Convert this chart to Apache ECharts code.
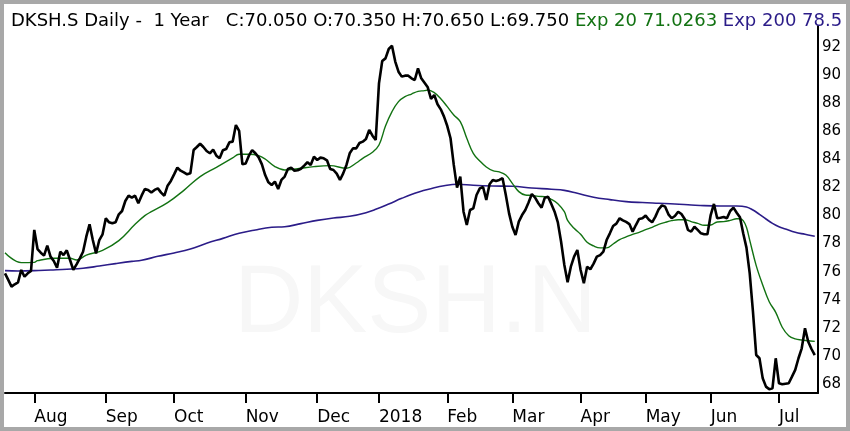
<!DOCTYPE html>
<html>
<head>
<meta charset="utf-8">
<script src="https://cdn.jsdelivr.net/npm/echarts@6/dist/echarts.min.js"></script>
<style>
  html, body { margin: 0; padding: 0; background: #fff; }
  #chart { width: 850px; height: 431px; }
</style>
</head>
<body>
<div id="chart"></div>
<script>
// trading-day index of the first session of each month
const monthStart = [9, 31, 52, 74, 96, 115, 136, 156, 177, 197, 217, 238];
const monthLabels = ['Aug', 'Sep', 'Oct', 'Nov', 'Dec', '2018', 'Feb', 'Mar', 'Apr', 'May', 'Jun', 'Jul'];
const priceTicks = [68, 70, 72, 74, 76, 78, 80, 82, 84, 86, 88, 90, 92];

// daily close, one value per trading day
const closes = [
  75.88, 75.41, 74.93, 75.10, 75.24, 76.12, 75.64, 75.88, 76.05, 78.97,
  77.61, 77.35, 77.14, 77.85, 77.07, 76.76, 76.28, 77.42, 77.18, 77.52,
  76.83, 76.12, 76.52, 76.95, 77.42, 78.49, 79.37, 78.25, 77.30, 78.25,
  78.66, 79.80, 79.51, 79.44, 79.51, 80.08, 80.32, 81.03, 81.41, 81.27,
  81.41, 80.87, 81.41, 81.89, 81.82, 81.63, 81.82, 81.93, 81.63, 81.41,
  82.12, 82.46, 82.93, 83.41, 83.19, 83.07, 82.93, 83.00, 84.66, 84.88,
  85.11, 84.88, 84.59, 84.43, 84.69, 84.26, 84.07, 84.64, 84.73, 85.21,
  85.26, 86.44, 86.02, 83.64, 83.71, 84.26, 84.66, 84.43, 84.14, 83.64,
  82.88, 82.36, 82.17, 82.41, 81.89, 82.53, 82.77, 83.31, 83.41, 83.19,
  83.22, 83.33, 83.55, 83.79, 83.60, 84.19, 83.95, 84.12, 84.07, 83.93,
  83.31, 83.24, 82.98, 82.53, 83.00, 83.60, 84.43, 84.78, 84.78, 85.16,
  85.26, 85.45, 86.09, 85.68, 85.38, 89.41, 91.00, 91.19, 91.86, 92.09,
  90.96, 90.24, 89.89, 89.96, 89.96, 89.77, 89.65, 90.48, 89.77, 89.45,
  89.13, 88.30, 88.58, 87.92, 87.56, 87.04, 86.37, 85.50, 83.60, 81.98,
  82.77, 80.27, 79.32, 80.39, 80.51, 81.46, 81.93, 82.03, 81.10, 82.22,
  82.53, 82.46, 82.53, 82.65, 81.46, 80.15, 79.20, 78.61, 79.56, 80.03,
  80.39, 80.93, 81.53, 81.27, 80.87, 80.56, 81.27, 81.34, 80.82, 80.27,
  79.51, 78.13, 76.47, 75.24, 76.35, 77.07, 77.54, 76.12, 75.17, 76.35,
  76.17, 76.57, 77.07, 77.18, 77.42, 78.25, 78.73, 79.25, 79.42, 79.80,
  79.65, 79.54, 79.39, 78.85, 79.32, 79.75, 79.80, 79.99, 79.70, 79.51,
  79.92, 80.44, 80.72, 80.63, 80.08, 79.80, 79.96, 80.27, 80.10, 79.75,
  78.97, 78.85, 79.20, 78.97, 78.73, 78.66, 78.66, 80.03, 80.82, 79.80,
  79.84, 79.89, 79.80, 80.32, 80.56, 80.20, 79.87, 78.73, 77.71, 75.88,
  73.15, 70.06, 69.83, 68.40, 67.81, 67.62, 67.69, 69.83, 68.05, 67.98,
  68.02, 68.05, 68.52, 69.00, 69.83, 70.54, 71.97, 71.01, 70.49, 70.05
];

// exponential averages: [day index, value]
const ema20 = [
  [0, 77.35], [5, 76.64], [9, 76.66], [10, 76.78], [15, 76.95], [20, 76.95], [22, 76.83],
  [25, 77.18], [30, 77.52], [35, 78.21], [40, 79.37], [43, 79.99], [45, 80.27], [50, 80.91],
  [55, 81.79], [60, 82.77], [65, 83.43], [70, 84.10], [72, 84.36], [75, 84.36], [78, 84.26],
  [80, 84.02], [83, 83.48], [86, 83.24], [90, 83.33], [95, 83.48], [100, 83.55], [105, 83.36],
  [108, 83.74], [110, 84.07], [113, 84.50], [115, 85.02], [117, 86.37], [119, 87.40],
  [121, 88.11], [123, 88.46], [125, 88.65], [127, 88.84], [129, 88.89], [130, 88.94],
  [132, 88.75], [134, 88.32], [136, 87.75], [138, 87.16], [140, 86.68], [142, 85.50],
  [144, 84.43], [146, 83.88], [148, 83.45], [150, 83.19], [152, 83.10], [154, 82.88],
  [156, 82.29], [158, 81.70], [160, 81.46], [162, 81.43], [164, 81.36], [166, 81.34],
  [168, 81.15], [170, 80.84], [172, 80.27], [173, 79.65], [175, 79.09], [177, 78.66],
  [179, 78.09], [181, 77.83], [183, 77.69], [185, 77.69], [187, 77.97], [189, 78.28],
  [191, 78.47], [193, 78.66], [195, 78.80], [197, 78.99], [199, 79.16], [201, 79.37],
  [203, 79.51], [205, 79.63], [207, 79.70], [209, 79.70], [211, 79.56], [213, 79.44],
  [215, 79.30], [217, 79.32], [219, 79.54], [221, 79.56], [223, 79.65], [225, 79.77],
  [226, 79.77], [227, 79.63], [228, 79.16], [229, 78.25], [231, 76.43], [233, 75.05],
  [235, 73.86], [237, 73.10], [239, 72.04], [241, 71.44], [243, 71.21], [245, 71.13],
  [247, 71.08], [249, 71.03]
];
const ema200 = [
  [0, 76.07], [4, 76.05], [9, 76.07], [14, 76.12], [19, 76.17], [24, 76.24], [29, 76.40],
  [34, 76.57], [39, 76.73], [42, 76.81], [47, 77.09], [52, 77.33], [57, 77.61], [62, 78.02],
  [67, 78.37], [72, 78.73], [77, 78.97], [82, 79.16], [86, 79.20], [91, 79.42], [96, 79.65],
  [101, 79.82], [106, 79.94], [111, 80.20], [114, 80.44], [118, 80.82], [122, 81.22],
  [126, 81.58], [129, 81.79], [132, 81.98], [135, 82.12], [139, 82.22], [144, 82.15],
  [150, 82.10], [156, 82.08], [162, 81.96], [168, 81.87], [172, 81.79], [176, 81.58],
  [181, 81.30], [186, 81.13], [191, 80.99], [196, 80.92], [201, 80.87], [206, 80.82],
  [211, 80.75], [215, 80.70], [220, 80.68], [225, 80.68], [228, 80.61], [230, 80.39],
  [232, 80.08], [234, 79.75], [236, 79.44], [238, 79.20], [240, 79.04], [243, 78.80],
  [246, 78.66], [249, 78.52]
];

const GREEN = '#127212';
const BLUE = '#2b1c88';
const FONT = 'DejaVu Sans';

const chart = echarts.init(document.getElementById('chart'), null, { width: 850, height: 431 });

chart.setOption({
  animation: false,
  backgroundColor: '#fff',
  title: {
    left: 6,
    top: 6,
    text: '{k|DKSH.S Daily -  1 Year   C:70.050 O:70.350 H:70.650 L:69.750} {g|Exp 20 71.0263} {b|Exp 200 78.5}',
    textStyle: {
      fontFamily: FONT,
      fontSize: 18,
      fontWeight: 'normal',
      rich: {
        k: { fontFamily: FONT, fontSize: 18, color: '#000', lineHeight: 20 },
        g: { fontFamily: FONT, fontSize: 18, color: GREEN, lineHeight: 20 },
        b: { fontFamily: FONT, fontSize: 18, color: BLUE, lineHeight: 20 }
      }
    }
  },
  graphic: [
    {
      // faint watermark behind the plot
      type: 'text',
      z: 0,
      left: 234,
      top: 258,
      style: {
        text: 'DKSH.N',
        fontFamily: 'Liberation Sans',
        fontSize: 96,
        fill: '#f7f7f7'
      }
    },
    {
      type: 'rect',
      z: 100,
      shape: { x: 2, y: 2, width: 846, height: 427 },
      style: { fill: 'none', stroke: '#a8a8a8', lineWidth: 4 }
    }
  ],
  grid: {
    left: 5,
    right: 32,
    top: 26,
    bottom: 38
  },
  xAxis: {
    type: 'value',
    min: 0,
    max: 250,
    axisLine: { onZero: false, lineStyle: { color: '#000', width: 2 } },
    axisTick: {
      customValues: monthStart,
      length: 10,
      lineStyle: { color: '#000', width: 2 }
    },
    axisLabel: {
      customValues: monthStart,
      formatter: v => monthLabels[monthStart.indexOf(v)],
      align: 'left',
      margin: 16,
      fontFamily: FONT,
      fontSize: 17,
      color: '#000'
    },
    splitLine: { show: false }
  },
  yAxis: {
    type: 'value',
    position: 'right',
    min: 67.356,
    max: 93.496,
    axisLine: { show: true, onZero: false, lineStyle: { color: '#000', width: 2 } },
    axisTick: { show: false },
    axisLabel: {
      customValues: priceTicks,
      margin: 4,
      fontFamily: FONT,
      fontSize: 15,
      color: '#000'
    },
    splitLine: { show: false }
  },
  series: [
    {
      name: 'Exp 200',
      type: 'line',
      data: ema200,
      smooth: 0.4,
      showSymbol: false,
      z: 2,
      lineStyle: { color: BLUE, width: 1.6 }
    },
    {
      name: 'Exp 20',
      type: 'line',
      data: ema20,
      smooth: 0.4,
      showSymbol: false,
      z: 3,
      lineStyle: { color: GREEN, width: 1.4 }
    },
    {
      name: 'Close',
      type: 'line',
      data: closes.map((v, i) => [i, v]),
      showSymbol: false,
      z: 4,
      lineStyle: { color: '#000', width: 2.6 }
    }
  ]
});
</script>
</body>
</html>
